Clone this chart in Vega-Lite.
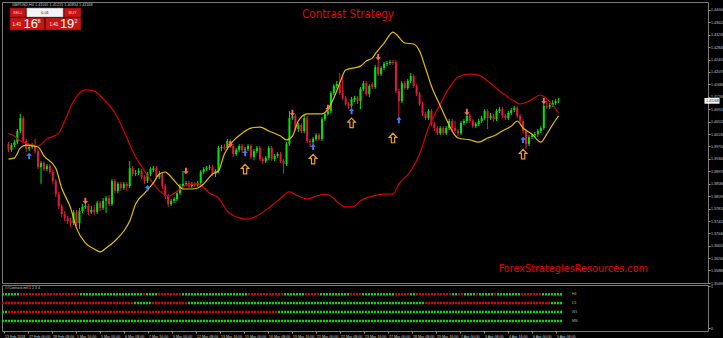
{
"$schema":"https://vega.github.io/schema/vega-lite/v6.json",
"background":"#000000",
"padding":{"left":0,"top":1,"right":0,"bottom":0},
"spacing":2,
"bounds":"flush",
"config":{"view":{"stroke":"#7a7a7a","strokeWidth":1},"axis":{"domain":false,"grid":false,"tickColor":"#9a9a9a","labelColor":"#c8c8c8","labelFont":"Liberation Sans","labelFontSize":3.6,"tickSize":2,"labelPadding":1,"labelOverlap":false}},
"datasets":{
"bars":[
{"i":0,"o":1.3982,"h":1.3988,"l":1.3957,"c":1.3964},{"i":1,"o":1.3964,"h":1.3985,"l":1.3957,"c":1.3979},{"i":2,"o":1.3979,"h":1.3995,"l":1.3973,"c":1.3988},{"i":3,"o":1.3988,"h":1.4029,"l":1.3982,"c":1.4023},{"i":4,"o":1.4023,"h":1.4076,"l":1.4016,"c":1.4063},{"i":5,"o":1.4063,"h":1.4070,"l":1.3985,"c":1.3992},{"i":6,"o":1.3992,"h":1.3998,"l":1.3957,"c":1.3967},{"i":7,"o":1.3967,"h":1.3982,"l":1.3960,"c":1.3973},{"i":8,"o":1.3973,"h":1.3985,"l":1.3967,"c":1.3976},{"i":9,"o":1.3976,"h":1.3998,"l":1.3954,"c":1.3960},
{"i":10,"o":1.3960,"h":1.3967,"l":1.3904,"c":1.3910},{"i":11,"o":1.3910,"h":1.3929,"l":1.3858,"c":1.3923},{"i":12,"o":1.3923,"h":1.3929,"l":1.3898,"c":1.3904},{"i":13,"o":1.3904,"h":1.3920,"l":1.3898,"c":1.3914},{"i":14,"o":1.3914,"h":1.3920,"l":1.3889,"c":1.3895},{"i":15,"o":1.3895,"h":1.3901,"l":1.3858,"c":1.3867},{"i":16,"o":1.3867,"h":1.3873,"l":1.3817,"c":1.3826},{"i":17,"o":1.3826,"h":1.3833,"l":1.3780,"c":1.3789},{"i":18,"o":1.3789,"h":1.3795,"l":1.3755,"c":1.3764},{"i":19,"o":1.3764,"h":1.3773,"l":1.3742,"c":1.3752},
{"i":20,"o":1.3752,"h":1.3758,"l":1.3733,"c":1.3742},{"i":21,"o":1.3742,"h":1.3752,"l":1.3723,"c":1.3736},{"i":22,"o":1.3736,"h":1.3777,"l":1.3730,"c":1.3770},{"i":23,"o":1.3770,"h":1.3777,"l":1.3727,"c":1.3736},{"i":24,"o":1.3736,"h":1.3783,"l":1.3717,"c":1.3773},{"i":25,"o":1.3773,"h":1.3795,"l":1.3767,"c":1.3786},{"i":26,"o":1.3786,"h":1.3805,"l":1.3780,"c":1.3789},{"i":27,"o":1.3789,"h":1.3795,"l":1.3761,"c":1.3770},{"i":28,"o":1.3770,"h":1.3789,"l":1.3764,"c":1.3777},{"i":29,"o":1.3777,"h":1.3792,"l":1.3761,"c":1.3770},
{"i":30,"o":1.3770,"h":1.3805,"l":1.3764,"c":1.3798},{"i":31,"o":1.3798,"h":1.3805,"l":1.3773,"c":1.3783},{"i":32,"o":1.3783,"h":1.3814,"l":1.3777,"c":1.3805},{"i":33,"o":1.3805,"h":1.3820,"l":1.3767,"c":1.3814},{"i":34,"o":1.3814,"h":1.3823,"l":1.3789,"c":1.3795},{"i":35,"o":1.3795,"h":1.3873,"l":1.3789,"c":1.3867},{"i":36,"o":1.3867,"h":1.3873,"l":1.3829,"c":1.3836},{"i":37,"o":1.3836,"h":1.3864,"l":1.3829,"c":1.3858},{"i":38,"o":1.3858,"h":1.3864,"l":1.3836,"c":1.3845},{"i":39,"o":1.3845,"h":1.3864,"l":1.3839,"c":1.3858},
{"i":40,"o":1.3858,"h":1.3864,"l":1.3836,"c":1.3851},{"i":41,"o":1.3851,"h":1.3929,"l":1.3845,"c":1.3907},{"i":42,"o":1.3907,"h":1.3914,"l":1.3882,"c":1.3889},{"i":43,"o":1.3889,"h":1.3901,"l":1.3882,"c":1.3892},{"i":44,"o":1.3892,"h":1.3907,"l":1.3885,"c":1.3898},{"i":45,"o":1.3898,"h":1.3904,"l":1.3873,"c":1.3879},{"i":46,"o":1.3879,"h":1.3885,"l":1.3858,"c":1.3867},{"i":47,"o":1.3867,"h":1.3895,"l":1.3861,"c":1.3889},{"i":48,"o":1.3889,"h":1.3910,"l":1.3882,"c":1.3904},{"i":49,"o":1.3901,"h":1.3914,"l":1.3895,"c":1.3907},
{"i":50,"o":1.3907,"h":1.3914,"l":1.3873,"c":1.3879},{"i":51,"o":1.3879,"h":1.3898,"l":1.3873,"c":1.3889},{"i":52,"o":1.3889,"h":1.3895,"l":1.3842,"c":1.3851},{"i":53,"o":1.3851,"h":1.3858,"l":1.3811,"c":1.3820},{"i":54,"o":1.3820,"h":1.3826,"l":1.3786,"c":1.3795},{"i":55,"o":1.3795,"h":1.3811,"l":1.3789,"c":1.3805},{"i":56,"o":1.3805,"h":1.3817,"l":1.3798,"c":1.3811},{"i":57,"o":1.3811,"h":1.3836,"l":1.3805,"c":1.3829},{"i":58,"o":1.3829,"h":1.3858,"l":1.3823,"c":1.3851},{"i":59,"o":1.3851,"h":1.3898,"l":1.3845,"c":1.3858},
{"i":60,"o":1.3858,"h":1.3867,"l":1.3851,"c":1.3861},{"i":61,"o":1.3861,"h":1.3867,"l":1.3845,"c":1.3851},{"i":62,"o":1.3851,"h":1.3864,"l":1.3845,"c":1.3858},{"i":63,"o":1.3858,"h":1.3864,"l":1.3848,"c":1.3854},{"i":64,"o":1.3854,"h":1.3867,"l":1.3848,"c":1.3861},{"i":65,"o":1.3861,"h":1.3901,"l":1.3851,"c":1.3895},{"i":66,"o":1.3895,"h":1.3910,"l":1.3889,"c":1.3904},{"i":67,"o":1.3904,"h":1.3914,"l":1.3898,"c":1.3907},{"i":68,"o":1.3907,"h":1.3917,"l":1.3901,"c":1.3910},{"i":69,"o":1.3910,"h":1.3917,"l":1.3882,"c":1.3889},
{"i":70,"o":1.3889,"h":1.3904,"l":1.3879,"c":1.3898},{"i":71,"o":1.3898,"h":1.3976,"l":1.3892,"c":1.3970},{"i":72,"o":1.3970,"h":1.3979,"l":1.3960,"c":1.3973},{"i":73,"o":1.3973,"h":1.3982,"l":1.3964,"c":1.3970},{"i":74,"o":1.3970,"h":1.3998,"l":1.3964,"c":1.3992},{"i":75,"o":1.3992,"h":1.3998,"l":1.3970,"c":1.3976},{"i":76,"o":1.3976,"h":1.3982,"l":1.3942,"c":1.3951},{"i":77,"o":1.3951,"h":1.3970,"l":1.3945,"c":1.3964},{"i":78,"o":1.3964,"h":1.3982,"l":1.3957,"c":1.3976},{"i":79,"o":1.3976,"h":1.3982,"l":1.3954,"c":1.3964},
{"i":80,"o":1.3964,"h":1.3973,"l":1.3957,"c":1.3967},{"i":81,"o":1.3967,"h":1.3982,"l":1.3960,"c":1.3976},{"i":82,"o":1.3976,"h":1.3982,"l":1.3935,"c":1.3942},{"i":83,"o":1.3942,"h":1.3967,"l":1.3932,"c":1.3960},{"i":84,"o":1.3960,"h":1.3976,"l":1.3954,"c":1.3970},{"i":85,"o":1.3970,"h":1.3976,"l":1.3929,"c":1.3935},{"i":86,"o":1.3935,"h":1.3942,"l":1.3920,"c":1.3929},{"i":87,"o":1.3929,"h":1.3945,"l":1.3923,"c":1.3939},{"i":88,"o":1.3939,"h":1.3976,"l":1.3932,"c":1.3970},{"i":89,"o":1.3970,"h":1.3976,"l":1.3929,"c":1.3935},
{"i":90,"o":1.3935,"h":1.3951,"l":1.3929,"c":1.3945},{"i":91,"o":1.3945,"h":1.3957,"l":1.3939,"c":1.3951},{"i":92,"o":1.3951,"h":1.3957,"l":1.3923,"c":1.3929},{"i":93,"o":1.3929,"h":1.3935,"l":1.3889,"c":1.3920},{"i":94,"o":1.3920,"h":1.3988,"l":1.3914,"c":1.3982},{"i":95,"o":1.3982,"h":1.4085,"l":1.3976,"c":1.4063},{"i":96,"o":1.4063,"h":1.4079,"l":1.4057,"c":1.4070},{"i":97,"o":1.4070,"h":1.4076,"l":1.4023,"c":1.4029},{"i":98,"o":1.4029,"h":1.4048,"l":1.4020,"c":1.4041},{"i":99,"o":1.4041,"h":1.4048,"l":1.4016,"c":1.4023},
{"i":100,"o":1.4023,"h":1.4073,"l":1.4016,"c":1.4063},{"i":101,"o":1.4063,"h":1.4070,"l":1.3985,"c":1.3992},{"i":102,"o":1.3992,"h":1.3998,"l":1.3973,"c":1.3988},{"i":103,"o":1.3988,"h":1.4004,"l":1.3982,"c":1.3998},{"i":104,"o":1.3998,"h":1.4016,"l":1.3992,"c":1.4010},{"i":105,"o":1.4010,"h":1.4016,"l":1.3992,"c":1.3998},{"i":106,"o":1.3998,"h":1.4066,"l":1.3992,"c":1.4060},{"i":107,"o":1.4060,"h":1.4082,"l":1.4054,"c":1.4076},{"i":108,"o":1.4076,"h":1.4091,"l":1.4070,"c":1.4085},{"i":109,"o":1.4085,"h":1.4147,"l":1.4079,"c":1.4141},
{"i":110,"o":1.4141,"h":1.4169,"l":1.4135,"c":1.4163},{"i":111,"o":1.4163,"h":1.4179,"l":1.4157,"c":1.4169},{"i":112,"o":1.4169,"h":1.4204,"l":1.4135,"c":1.4141},{"i":113,"o":1.4141,"h":1.4194,"l":1.4119,"c":1.4126},{"i":114,"o":1.4126,"h":1.4132,"l":1.4101,"c":1.4107},{"i":115,"o":1.4107,"h":1.4113,"l":1.4091,"c":1.4101},{"i":116,"o":1.4101,"h":1.4129,"l":1.4095,"c":1.4123},{"i":117,"o":1.4119,"h":1.4132,"l":1.4113,"c":1.4126},{"i":118,"o":1.4126,"h":1.4132,"l":1.4107,"c":1.4116},{"i":119,"o":1.4116,"h":1.4160,"l":1.4091,"c":1.4154},
{"i":120,"o":1.4154,"h":1.4179,"l":1.4147,"c":1.4172},{"i":121,"o":1.4172,"h":1.4179,"l":1.4132,"c":1.4138},{"i":122,"o":1.4138,"h":1.4169,"l":1.4129,"c":1.4163},{"i":123,"o":1.4169,"h":1.4175,"l":1.4154,"c":1.4160},{"i":124,"o":1.4160,"h":1.4229,"l":1.4154,"c":1.4222},{"i":125,"o":1.4222,"h":1.4247,"l":1.4194,"c":1.4200},{"i":126,"o":1.4200,"h":1.4225,"l":1.4194,"c":1.4219},{"i":127,"o":1.4219,"h":1.4238,"l":1.4213,"c":1.4232},{"i":128,"o":1.4232,"h":1.4241,"l":1.4225,"c":1.4235},{"i":129,"o":1.4235,"h":1.4244,"l":1.4229,"c":1.4238},
{"i":130,"o":1.4238,"h":1.4244,"l":1.4229,"c":1.4235},{"i":131,"o":1.4238,"h":1.4244,"l":1.4141,"c":1.4147},{"i":132,"o":1.4147,"h":1.4154,"l":1.4060,"c":1.4116},{"i":133,"o":1.4116,"h":1.4179,"l":1.4110,"c":1.4172},{"i":134,"o":1.4172,"h":1.4179,"l":1.4151,"c":1.4157},{"i":135,"o":1.4157,"h":1.4185,"l":1.4151,"c":1.4179},{"i":136,"o":1.4179,"h":1.4204,"l":1.4172,"c":1.4194},{"i":137,"o":1.4194,"h":1.4200,"l":1.4157,"c":1.4163},{"i":138,"o":1.4163,"h":1.4169,"l":1.4132,"c":1.4138},{"i":139,"o":1.4138,"h":1.4144,"l":1.4101,"c":1.4107},
{"i":140,"o":1.4107,"h":1.4113,"l":1.4070,"c":1.4076},{"i":141,"o":1.4076,"h":1.4082,"l":1.4057,"c":1.4063},{"i":142,"o":1.4063,"h":1.4091,"l":1.4057,"c":1.4085},{"i":143,"o":1.4085,"h":1.4091,"l":1.4038,"c":1.4045},{"i":144,"o":1.4045,"h":1.4051,"l":1.4023,"c":1.4032},{"i":145,"o":1.4032,"h":1.4038,"l":1.4010,"c":1.4016},{"i":146,"o":1.4016,"h":1.4038,"l":1.4010,"c":1.4032},{"i":147,"o":1.4032,"h":1.4038,"l":1.4010,"c":1.4016},{"i":148,"o":1.4016,"h":1.4038,"l":1.4010,"c":1.4032},{"i":149,"o":1.4032,"h":1.4060,"l":1.4026,"c":1.4054},
{"i":150,"o":1.4054,"h":1.4060,"l":1.4023,"c":1.4032},{"i":151,"o":1.4032,"h":1.4054,"l":1.4016,"c":1.4023},{"i":152,"o":1.4023,"h":1.4029,"l":1.4007,"c":1.4016},{"i":153,"o":1.4016,"h":1.4054,"l":1.4010,"c":1.4048},{"i":154,"o":1.4048,"h":1.4060,"l":1.4041,"c":1.4054},{"i":155,"o":1.4054,"h":1.4079,"l":1.4048,"c":1.4070},{"i":156,"o":1.4070,"h":1.4076,"l":1.4048,"c":1.4054},{"i":157,"o":1.4054,"h":1.4060,"l":1.4032,"c":1.4038},{"i":158,"o":1.4038,"h":1.4051,"l":1.4032,"c":1.4045},{"i":159,"o":1.4045,"h":1.4060,"l":1.4038,"c":1.4054},
{"i":160,"o":1.4054,"h":1.4070,"l":1.4048,"c":1.4063},{"i":161,"o":1.4063,"h":1.4091,"l":1.4057,"c":1.4085},{"i":162,"o":1.4085,"h":1.4091,"l":1.4029,"c":1.4063},{"i":163,"o":1.4063,"h":1.4079,"l":1.4057,"c":1.4070},{"i":164,"o":1.4070,"h":1.4076,"l":1.4051,"c":1.4060},{"i":165,"o":1.4060,"h":1.4091,"l":1.4054,"c":1.4085},{"i":166,"o":1.4085,"h":1.4098,"l":1.4079,"c":1.4091},{"i":167,"o":1.4091,"h":1.4098,"l":1.4063,"c":1.4070},{"i":168,"o":1.4070,"h":1.4076,"l":1.4057,"c":1.4063},{"i":169,"o":1.4063,"h":1.4085,"l":1.4057,"c":1.4079},
{"i":170,"o":1.4079,"h":1.4095,"l":1.4073,"c":1.4088},{"i":171,"o":1.4088,"h":1.4101,"l":1.4082,"c":1.4095},{"i":172,"o":1.4095,"h":1.4101,"l":1.4063,"c":1.4070},{"i":173,"o":1.4070,"h":1.4076,"l":1.4048,"c":1.4054},{"i":174,"o":1.4054,"h":1.4060,"l":1.4016,"c":1.4023},{"i":175,"o":1.4023,"h":1.4029,"l":1.3967,"c":1.3982},{"i":176,"o":1.3982,"h":1.4010,"l":1.3976,"c":1.4004},{"i":177,"o":1.4004,"h":1.4016,"l":1.3998,"c":1.4010},{"i":178,"o":1.4010,"h":1.4020,"l":1.4004,"c":1.4013},{"i":179,"o":1.4013,"h":1.4029,"l":1.4004,"c":1.4023},
{"i":180,"o":1.4023,"h":1.4038,"l":1.4016,"c":1.4032},{"i":181,"o":1.4032,"h":1.4107,"l":1.4026,"c":1.4101},{"i":182,"o":1.4101,"h":1.4116,"l":1.4091,"c":1.4098},{"i":183,"o":1.4098,"h":1.4110,"l":1.4091,"c":1.4104},{"i":184,"o":1.4104,"h":1.4119,"l":1.4098,"c":1.4110},{"i":185,"o":1.4110,"h":1.4123,"l":1.4104,"c":1.4116},{"i":186,"o":1.4116,"h":1.4126,"l":1.4110,"c":1.4117}
],
"red":[{"i":0,"p":1.4016},{"i":2,"p":1.4007},{"i":4,"p":1.3992},{"i":7,"p":1.3982},{"i":10,"p":1.3976},{"i":13,"p":1.3998},{"i":17,"p":1.4016},{"i":19,"p":1.4054},{"i":22,"p":1.4116},{"i":26,"p":1.4151},{"i":29,"p":1.4147},{"i":32,"p":1.4123},{"i":36,"p":1.4079},{"i":39,"p":1.4023},{"i":42,"p":1.3960},{"i":46,"p":1.3898},{"i":49,"p":1.3858},{"i":52,"p":1.3829},{"i":54,"p":1.3820},{"i":58,"p":1.3842},{"i":60,"p":1.3854},{"i":64,"p":1.3858},{"i":68,"p":1.3829},{"i":71,"p":1.3814},{"i":74,"p":1.3773},{"i":78,"p":1.3752},{"i":81,"p":1.3748},{"i":84,"p":1.3758},{"i":88,"p":1.3783},{"i":91,"p":1.3805},{"i":95,"p":1.3833},{"i":98,"p":1.3820},{"i":101,"p":1.3811},{"i":104,"p":1.3820},{"i":107,"p":1.3826},{"i":109,"p":1.3820},{"i":112,"p":1.3795},{"i":114,"p":1.3786},{"i":117,"p":1.3789},{"i":119,"p":1.3805},{"i":123,"p":1.3820},{"i":127,"p":1.3826},{"i":130,"p":1.3826},{"i":132,"p":1.3858},{"i":136,"p":1.3898},{"i":139,"p":1.3951},{"i":142,"p":1.4032},{"i":146,"p":1.4107},{"i":149,"p":1.4157},{"i":152,"p":1.4191},{"i":156,"p":1.4200},{"i":159,"p":1.4197},{"i":162,"p":1.4179},{"i":167,"p":1.4141},{"i":171,"p":1.4116},{"i":173,"p":1.4107},{"i":176,"p":1.4116},{"i":180,"p":1.4135},{"i":182,"p":1.4123},{"i":186,"p":1.4079}],
"yellow":[{"i":0,"p":1.3935},{"i":2,"p":1.3939},{"i":4,"p":1.3970},{"i":6,"p":1.3979},{"i":10,"p":1.3973},{"i":12,"p":1.3945},{"i":16,"p":1.3907},{"i":18,"p":1.3845},{"i":21,"p":1.3783},{"i":23,"p":1.3720},{"i":26,"p":1.3674},{"i":29,"p":1.3655},{"i":31,"p":1.3646},{"i":33,"p":1.3658},{"i":36,"p":1.3680},{"i":39,"p":1.3711},{"i":41,"p":1.3742},{"i":43,"p":1.3795},{"i":46,"p":1.3829},{"i":49,"p":1.3861},{"i":51,"p":1.3889},{"i":53,"p":1.3895},{"i":54,"p":1.3889},{"i":57,"p":1.3858},{"i":59,"p":1.3842},{"i":62,"p":1.3842},{"i":64,"p":1.3845},{"i":66,"p":1.3858},{"i":69,"p":1.3889},{"i":71,"p":1.3898},{"i":73,"p":1.3951},{"i":76,"p":1.3992},{"i":79,"p":1.4016},{"i":82,"p":1.4032},{"i":85,"p":1.4035},{"i":88,"p":1.4023},{"i":92,"p":1.4007},{"i":94,"p":1.3995},{"i":96,"p":1.4007},{"i":98,"p":1.4054},{"i":101,"p":1.4076},{"i":106,"p":1.4076},{"i":108,"p":1.4091},{"i":110,"p":1.4126},{"i":112,"p":1.4172},{"i":114,"p":1.4213},{"i":118,"p":1.4222},{"i":119,"p":1.4225},{"i":121,"p":1.4241},{"i":123,"p":1.4250},{"i":124,"p":1.4263},{"i":127,"p":1.4297},{"i":130,"p":1.4331},{"i":131,"p":1.4325},{"i":134,"p":1.4297},{"i":137,"p":1.4294},{"i":139,"p":1.4272},{"i":141,"p":1.4219},{"i":143,"p":1.4163},{"i":146,"p":1.4101},{"i":148,"p":1.4060},{"i":150,"p":1.4023},{"i":152,"p":1.4001},{"i":156,"p":1.3995},{"i":159,"p":1.3988},{"i":162,"p":1.4001},{"i":164,"p":1.4007},{"i":167,"p":1.4023},{"i":170,"p":1.4038},{"i":172,"p":1.4054},{"i":174,"p":1.4032},{"i":177,"p":1.4013},{"i":180,"p":1.3988},{"i":182,"p":1.4013},{"i":185,"p":1.4057},{"i":186,"p":1.4070}],
"sig":[{"i":26,"p":1.3805,"t":"sell"},{"i":60,"p":1.3898,"t":"sell"},{"i":75,"p":1.3982,"t":"sell"},{"i":96,"p":1.4079,"t":"sell"},{"i":108,"p":1.4095,"t":"sell"},{"i":125,"p":1.4253,"t":"sell"},{"i":155,"p":1.4082,"t":"sell"},{"i":181,"p":1.4116,"t":"sell"},
{"i":7,"p":1.3945,"t":"buy"},{"i":47,"p":1.3845,"t":"buy"},{"i":80,"p":1.3954,"t":"buy"},{"i":103,"p":1.3973,"t":"buy"},{"i":116,"p":1.4085,"t":"buy"},{"i":132,"p":1.4057,"t":"buy"},{"i":174,"p":1.3995,"t":"buy"},
{"i":80,"p":1.3904,"t":"big"},{"i":103,"p":1.3935,"t":"big"},{"i":116,"p":1.4048,"t":"big"},{"i":130,"p":1.4001,"t":"big"},{"i":174,"p":1.3951,"t":"big"}],
"mtf":[
{"row":"H4","level":0.815,"from":-0.5,"to":5.5,"state":"up"},{"row":"H4","level":0.815,"from":5.5,"to":25.5,"state":"dn"},{"row":"H4","level":0.815,"from":25.5,"to":46.5,"state":"up"},{"row":"H4","level":0.815,"from":46.5,"to":47.5,"state":"dn"},{"row":"H4","level":0.815,"from":47.5,"to":51.5,"state":"up"},{"row":"H4","level":0.815,"from":51.5,"to":59.5,"state":"dn"},{"row":"H4","level":0.815,"from":59.5,"to":81.5,"state":"up"},{"row":"H4","level":0.815,"from":81.5,"to":93.5,"state":"dn"},{"row":"H4","level":0.815,"from":93.5,"to":100.5,"state":"up"},{"row":"H4","level":0.815,"from":100.5,"to":105.5,"state":"dn"},{"row":"H4","level":0.815,"from":105.5,"to":115.5,"state":"up"},{"row":"H4","level":0.815,"from":115.5,"to":119.5,"state":"dn"},{"row":"H4","level":0.815,"from":119.5,"to":130.5,"state":"up"},{"row":"H4","level":0.815,"from":130.5,"to":135.5,"state":"dn"},{"row":"H4","level":0.815,"from":135.5,"to":137.5,"state":"up"},{"row":"H4","level":0.815,"from":137.5,"to":149.5,"state":"dn"},{"row":"H4","level":0.815,"from":149.5,"to":151.5,"state":"up"},{"row":"H4","level":0.815,"from":151.5,"to":153.5,"state":"dn"},{"row":"H4","level":0.815,"from":153.5,"to":157.5,"state":"up"},{"row":"H4","level":0.815,"from":157.5,"to":158.5,"state":"dn"},{"row":"H4","level":0.815,"from":158.5,"to":163.5,"state":"up"},{"row":"H4","level":0.815,"from":163.5,"to":164.5,"state":"dn"},{"row":"H4","level":0.815,"from":164.5,"to":172.5,"state":"up"},{"row":"H4","level":0.815,"from":172.5,"to":179.5,"state":"dn"},{"row":"H4","level":0.815,"from":179.5,"to":186.5,"state":"up"},
{"row":"D1","level":0.6,"from":-0.5,"to":43.5,"state":"dn"},{"row":"D1","level":0.6,"from":43.5,"to":49.5,"state":"up"},{"row":"D1","level":0.6,"from":49.5,"to":61.5,"state":"dn"},{"row":"D1","level":0.6,"from":61.5,"to":140.5,"state":"up"},{"row":"D1","level":0.6,"from":140.5,"to":182.5,"state":"dn"},{"row":"D1","level":0.6,"from":182.5,"to":186.5,"state":"up"},
{"row":"W1","level":0.385,"from":-0.5,"to":1.5,"state":"up"},{"row":"W1","level":0.385,"from":1.5,"to":91.5,"state":"dn"},{"row":"W1","level":0.385,"from":91.5,"to":186.5,"state":"up"},
{"row":"MN","level":0.17,"from":-0.5,"to":186.5,"state":"up"}],
"rows":[{"row":"H4","level":0.815},{"row":"D1","level":0.6},{"row":"W1","level":0.385},{"row":"MN","level":0.17}]
},
"vconcat":[
{
"width":706,"height":281,
"layer":[
{"data":{"name":"bars"},"mark":{"type":"rule","strokeWidth":1},
 "encoding":{
  "x":{"field":"i","type":"quantitative","scale":{"domain":[-0.5,234.83],"nice":false,"zero":false},"axis":null},
  "y":{"field":"l","type":"quantitative","title":null,"scale":{"domain":[1.3549,1.44249],"nice":false,"zero":false},
       "axis":{"orient":"right","title":null,"tickCount":500,"values":[1.44,1.4362,1.4323,1.4284,1.4245,1.4207,1.4168,1.4129,1.4091,1.4052,1.4013,1.3975,1.3936,1.3897,1.3858,1.3819,1.3781,1.3742,1.3704,1.3665,1.3626,1.3588,1.3549],"format":".5f","labelOverlap":false,"labelAlign":"left","labelPadding":0.5,"labelFontSize":3.6}},
  "y2":{"field":"h"},
  "color":{"condition":{"test":"datum.c >= datum.o","value":"#00e600"},"value":"#e5173f"}}},
{"data":{"name":"bars"},"mark":{"type":"bar","size":2},
 "encoding":{
  "x":{"field":"i","type":"quantitative","axis":null},
  "y":{"field":"o","type":"quantitative","title":null},
  "y2":{"field":"c"},
  "color":{"condition":{"test":"datum.c >= datum.o","value":"#00e600"},"value":"#e5173f"}}},
{"data":{"name":"red"},"mark":{"type":"line","color":"#d80000","strokeWidth":1.2,"interpolate":"monotone"},
 "encoding":{"x":{"field":"i","type":"quantitative","axis":null},"y":{"field":"p","type":"quantitative","title":null}}},
{"data":{"name":"yellow"},"mark":{"type":"line","color":"#e2c000","strokeWidth":1.2,"interpolate":"monotone"},
 "encoding":{"x":{"field":"i","type":"quantitative","axis":null},"y":{"field":"p","type":"quantitative","title":null}}},
{"data":{"name":"sig"},"transform":[{"filter":"datum.t == 'sell'"}],
 "mark":{"type":"point","shape":"M0,1L0.85,0.05L0.3,0.05L0.3,-1L-0.3,-1L-0.3,0.05L-0.85,0.05Z","filled":true,"color":"#ff6b5b","size":40,"opacity":1},
 "encoding":{"x":{"field":"i","type":"quantitative","axis":null},"y":{"field":"p","type":"quantitative","title":null}}},
{"data":{"name":"sig"},"transform":[{"filter":"datum.t == 'buy'"}],
 "mark":{"type":"point","shape":"M0,-1L0.85,-0.05L0.3,-0.05L0.3,1L-0.3,1L-0.3,-0.05L-0.85,-0.05Z","filled":true,"color":"#3f7fff","size":40,"opacity":1},
 "encoding":{"x":{"field":"i","type":"quantitative","axis":null},"y":{"field":"p","type":"quantitative","title":null}}},
{"data":{"name":"sig"},"transform":[{"filter":"datum.t == 'big'"}],
 "mark":{"type":"point","shape":"M0,-1L0.8,-0.15L0.35,-0.15L0.35,1L-0.35,1L-0.35,-0.15L-0.8,-0.15Z","filled":false,"stroke":"#f0a020","strokeWidth":1.2,"size":90,"opacity":1},
 "encoding":{"x":{"field":"i","type":"quantitative","axis":null},"y":{"field":"p","type":"quantitative","title":null}}},
{"data":{"values":[{}]},"mark":{"type":"text","text":"Contrast Strategy","font":"DejaVu Sans Condensed","fontSize":11.5,"color":"#e60000","align":"center","baseline":"middle"},
 "encoding":{"x":{"datum":114.8,"type":"quantitative","axis":null},"y":{"datum":1.4384,"type":"quantitative"}}},
{"data":{"values":[{}]},"mark":{"type":"text","text":"ForexStrategiesResources.com","font":"DejaVu Sans Condensed","fontSize":10.8,"color":"#e60000","align":"center","baseline":"middle"},
 "encoding":{"x":{"datum":191,"type":"quantitative","axis":null},"y":{"datum":1.3593,"type":"quantitative"}}},
{"data":{"values":[{}]},"mark":{"type":"text","text":"GBPUSD,H4  1.41165 1.41215 1.40834 1.41168","font":"Liberation Sans","fontSize":3.8,"color":"#c8c8c8","align":"left","baseline":"middle","dx":5},
 "encoding":{"x":{"datum":-0.5,"type":"quantitative","axis":null},"y":{"datum":1.4416,"type":"quantitative"}}},
{"data":{"values":[{}]},"mark":{"type":"rect","color":"#c91414","stroke":"#801010","strokeWidth":0.6},
 "encoding":{"x":{"datum":0.5,"type":"quantitative","axis":null},"x2":{"datum":5.83},"y":{"datum":1.4406,"type":"quantitative"},"y2":{"datum":1.4378}}},
{"data":{"values":[{}]},"mark":{"type":"rect","color":"#f4f4f4","stroke":"#909090","strokeWidth":0.6},
 "encoding":{"x":{"datum":6.17,"type":"quantitative","axis":null},"x2":{"datum":18.5},"y":{"datum":1.4406,"type":"quantitative"},"y2":{"datum":1.4378}}},
{"data":{"values":[{}]},"mark":{"type":"rect","color":"#c91414","stroke":"#801010","strokeWidth":0.6},
 "encoding":{"x":{"datum":18.83,"type":"quantitative","axis":null},"x2":{"datum":24.5},"y":{"datum":1.4406,"type":"quantitative"},"y2":{"datum":1.4378}}},
{"data":{"values":[{}]},"mark":{"type":"rect","color":"#c91414","stroke":"#801010","strokeWidth":0.6},
 "encoding":{"x":{"datum":0.5,"type":"quantitative","axis":null},"x2":{"datum":12.17},"y":{"datum":1.4375,"type":"quantitative"},"y2":{"datum":1.4338}}},
{"data":{"values":[{}]},"mark":{"type":"rect","color":"#c91414","stroke":"#801010","strokeWidth":0.6},
 "encoding":{"x":{"datum":12.5,"type":"quantitative","axis":null},"x2":{"datum":24.5},"y":{"datum":1.4375,"type":"quantitative"},"y2":{"datum":1.4338}}},
{"data":{"values":[{}]},"mark":{"type":"text","text":"SELL","fontSize":4,"color":"#ffc0c0","align":"center","baseline":"middle"},
 "encoding":{"x":{"datum":3.17,"type":"quantitative","axis":null},"y":{"datum":1.4392,"type":"quantitative"}}},
{"data":{"values":[{}]},"mark":{"type":"text","text":"0.01","fontSize":4,"color":"#202020","align":"center","baseline":"middle"},
 "encoding":{"x":{"datum":12.33,"type":"quantitative","axis":null},"y":{"datum":1.4392,"type":"quantitative"}}},
{"data":{"values":[{}]},"mark":{"type":"text","text":"BUY","fontSize":4,"color":"#ffc0c0","align":"center","baseline":"middle"},
 "encoding":{"x":{"datum":21.67,"type":"quantitative","axis":null},"y":{"datum":1.4392,"type":"quantitative"}}},
{"data":{"values":[{}]},"mark":{"type":"text","text":"1.41","fontSize":4.5,"color":"#ffffff","align":"center","baseline":"middle"},
 "encoding":{"x":{"datum":2.83,"type":"quantitative","axis":null},"y":{"datum":1.4353,"type":"quantitative"}}},
{"data":{"values":[{}]},"mark":{"type":"text","text":"16","fontSize":13,"color":"#ffffff","align":"center","baseline":"middle"},
 "encoding":{"x":{"datum":7.5,"type":"quantitative","axis":null},"y":{"datum":1.4356,"type":"quantitative"}}},
{"data":{"values":[{}]},"mark":{"type":"text","text":"8","fontSize":5.5,"color":"#ffffff","align":"center","baseline":"middle"},
 "encoding":{"x":{"datum":10.33,"type":"quantitative","axis":null},"y":{"datum":1.4367,"type":"quantitative"}}},
{"data":{"values":[{}]},"mark":{"type":"text","text":"1.41","fontSize":4.5,"color":"#ffffff","align":"center","baseline":"middle"},
 "encoding":{"x":{"datum":15.33,"type":"quantitative","axis":null},"y":{"datum":1.4353,"type":"quantitative"}}},
{"data":{"values":[{}]},"mark":{"type":"text","text":"19","fontSize":13,"color":"#ffffff","align":"center","baseline":"middle"},
 "encoding":{"x":{"datum":19.83,"type":"quantitative","axis":null},"y":{"datum":1.4356,"type":"quantitative"}}},
{"data":{"values":[{}]},"mark":{"type":"text","text":"2","fontSize":5.5,"color":"#ffffff","align":"center","baseline":"middle"},
 "encoding":{"x":{"datum":22.83,"type":"quantitative","axis":null},"y":{"datum":1.4367,"type":"quantitative"}}},
{"data":{"values":[{}]},"mark":{"type":"point","shape":"M-1,-0.38L1,-0.38L1,0.38L-1,0.38Z","filled":true,"color":"#ffffff","size":225,"opacity":1,"xOffset":9},
 "encoding":{"x":{"datum":234.83,"type":"quantitative","axis":null},"y":{"datum":1.41168,"type":"quantitative"}}},
{"data":{"values":[{}]},"mark":{"type":"text","text":"1.41168","font":"Liberation Sans","fontSize":3.6,"color":"#000000","align":"left","baseline":"middle","dx":3},
 "encoding":{"x":{"datum":234.83,"type":"quantitative","axis":null},"y":{"datum":1.41168,"type":"quantitative"}}}
]
},
{
"width":706,"height":46,
"layer":[
{"data":{"name":"mtf"},"mark":{"type":"rule","strokeWidth":2.5,"strokeDash":[2,1],"strokeCap":"butt"},
 "encoding":{
  "x":{"field":"from","type":"quantitative","title":null,"scale":{"domain":[-0.5,234.83],"nice":false,"zero":false},
       "axis":{"title":null,"tickCount":500,"values":[0,8,16,24,32,40,48,56,64,72,80,88,96,104,112,120,128,136,144,152,160,168,176,184],
       "labelExpr":"['23 Feb 2018','27 Feb 00:00','28 Feb 08:00','1 Mar 16:00','5 Mar 00:00','6 Mar 08:00','7 Mar 16:00','9 Mar 00:00','12 Mar 08:00','13 Mar 16:00','15 Mar 00:00','16 Mar 08:00','19 Mar 16:00','21 Mar 00:00','22 Mar 08:00','23 Mar 16:00','27 Mar 00:00','28 Mar 08:00','29 Mar 16:00','2 Apr 00:00','3 Apr 08:00','4 Apr 16:00','6 Apr 00:00','9 Apr 08:00'][round(datum.value/8)]",
       "labelAlign":"left","labelBaseline":"top","labelOffset":1,"labelOverlap":false,"labelFontSize":3.6}},
  "x2":{"field":"to"},
  "y":{"field":"level","type":"quantitative","title":null,"scale":{"domain":[-0.072,1.036],"nice":false,"zero":false},
       "axis":{"orient":"right","title":null,"tickCount":10,"values":[0,1],"format":"d","labelPadding":0.5,"labelFontSize":3.6}},
  "color":{"field":"state","type":"nominal","scale":{"domain":["up","dn"],"range":["#00dd00","#e00000"]},"legend":null}}},
{"data":{"name":"rows"},"mark":{"type":"text","font":"Liberation Sans","fontSize":3.5,"color":"#b0b0b0","align":"left","baseline":"middle"},
 "encoding":{"x":{"datum":189.5,"type":"quantitative"},"y":{"field":"level","type":"quantitative"},"text":{"field":"row"}}},
{"data":{"values":[{}]},"mark":{"type":"text","text":"##Contrast-mtf 1 2 3 4","font":"Liberation Sans","fontSize":3.5,"color":"#c8c8c8","align":"left","baseline":"middle","dx":3},
 "encoding":{"x":{"datum":-0.5,"type":"quantitative"},"y":{"datum":0.96,"type":"quantitative"}}}
]
}
]
}
